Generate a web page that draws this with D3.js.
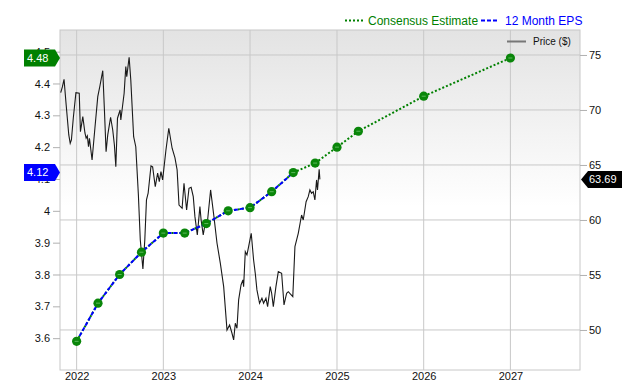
<!DOCTYPE html>
<html>
<head>
<meta charset="utf-8">
<script src="https://cdn.jsdelivr.net/npm/d3@7"></script>
<style>
  body { margin: 0; background: #fff; }
  #svg-container { width: 640px; height: 380px; }
  text { font-family: "Liberation Sans", Arial, sans-serif; }
</style>
</head>
<body>
<div id="svg-container"></div>
<script>
// price ($), weekly-ish closes
var priceDates = ["2021-10-26","2021-11-02","2021-11-09","2021-11-18","2021-11-29","2021-12-05","2021-12-10","2021-12-18","2021-12-29",
  "2022-01-12","2022-01-17","2022-01-27","2022-02-05","2022-02-10","2022-02-15","2022-02-20","2022-02-24","2022-03-07","2022-03-19","2022-03-31",
  "2022-04-09","2022-04-21","2022-04-28","2022-05-05","2022-05-12","2022-05-24","2022-06-02","2022-06-09","2022-06-15","2022-06-22",
  "2022-07-03","2022-07-06","2022-07-20","2022-07-27","2022-07-31","2022-08-10","2022-08-17","2022-08-29","2022-09-07","2022-09-18",
  "2022-09-26","2022-10-07","2022-10-15","2022-10-22","2022-10-29","2022-11-10","2022-11-17","2022-11-22","2022-11-28","2022-12-08",
  "2022-12-15","2022-12-22","2022-12-29","2023-01-12","2023-01-24","2023-02-07","2023-02-19","2023-02-28","2023-03-08","2023-03-21",
  "2023-03-29","2023-04-09","2023-04-19","2023-04-28","2023-05-07","2023-05-14","2023-05-24","2023-06-04","2023-06-09","2023-06-18",
  "2023-06-25","2023-07-05","2023-07-19","2023-08-02","2023-08-15","2023-08-29","2023-09-12","2023-09-26","2023-10-07","2023-10-17",
  "2023-10-24","2023-10-31","2023-11-07","2023-11-14","2023-11-24","2023-12-02","2023-12-05","2023-12-12","2023-12-19","2023-12-26",
  "2024-01-06","2024-01-16","2024-01-23","2024-01-30","2024-02-10","2024-02-20","2024-02-27","2024-03-08","2024-03-15","2024-03-26",
  "2024-04-01","2024-04-08","2024-04-19","2024-04-29","2024-05-13","2024-05-23","2024-06-03","2024-06-10","2024-06-29","2024-07-08",
  "2024-07-22","2024-08-05","2024-08-12","2024-08-24","2024-09-02","2024-09-09","2024-09-16","2024-09-23","2024-09-30","2024-10-07",
  "2024-10-11","2024-10-18","2024-10-21"];
var priceValues = [71.57,72.09,72.79,70.45,67.73,66.97,67.27,69.27,71.57,
  71.52,68.03,69.39,67.91,67.43,67.64,66.66,67.43,65.45,68.36,71.21,
  72.18,73.57,70.00,66.21,67.73,69.34,68.18,66.82,64.85,69.25,
  70.00,69.09,71.52,73.94,73.03,74.79,72.73,67.57,66.66,62.27,
  58.18,55.55,58.18,61.82,62.43,64.91,64.82,64.00,63.03,64.25,
  63.48,64.39,63.64,66.36,68.34,66.52,65.64,64.55,61.36,61.06,
  63.34,60.91,62.88,62.97,62.12,60.30,58.64,61.21,60.00,58.64,
  59.55,59.70,62.73,60.30,57.88,56.06,53.94,50.00,50.45,49.70,
  49.09,50.61,50.15,52.73,54.09,54.55,53.94,57.12,56.82,57.57,
  58.79,56.36,55.15,53.64,52.43,52.88,52.43,52.88,52.12,53.94,
  53.34,52.12,53.94,55.30,55.15,52.27,53.34,53.48,53.03,57.57,
  58.79,60.45,60.00,61.66,62.12,62.73,62.43,62.57,61.82,63.64,
  62.73,64.61,63.69];

// 12 month EPS (actuals) and consensus estimates
var epsDates = ["2022-01-01","2022-04-01","2022-07-01","2022-10-01","2023-01-01","2023-04-01","2023-07-01","2023-10-01","2024-01-01","2024-04-01","2024-07-01"];
var epsValues = [3.59,3.71,3.80,3.87,3.93,3.93,3.96,4.00,4.01,4.06,4.12];
var estDates = ["2024-10-01","2025-01-01","2025-04-01","2026-01-01","2027-01-01"];
var estValues = [4.15,4.20,4.25,4.36,4.48];

var leftTicks = [3.6,3.7,3.8,3.9,4.0,4.1,4.2,4.3,4.4,4.5];
var rightTicks = [50,55,60,65,70,75];
var yearTicks = [2022,2023,2024,2025,2026,2027];

var legendItems = [{ name: "Consensus Estimate", color: "#008000", dash: "2,2" },
                   { name: "12 Month EPS", color: "#0000ff", dash: "4,2" }];

var width = 640, height = 380;
var margin = { top: 30, right: 60, bottom: 10, left: 60 };
var plotW = width - margin.left - margin.right;
var plotH = height - margin.top - margin.bottom;

var parse = d3.timeParse("%Y-%m-%d");

var price = priceDates.map(function(d, i) { return { date: parse(d), value: priceValues[i] }; });
var eps = epsDates.map(function(d, i) { return { date: parse(d), value: epsValues[i] }; });
var est = estDates.map(function(d, i) { return { date: parse(d), value: estValues[i] }; });
var allEps = eps.concat(est);

var svg = d3.select("#svg-container")
            .append("svg")
            .attr("width", width)
            .attr("height", height);

var defs = svg.append("defs");
var grad = defs.append("linearGradient")
               .attr("id", "bg")
               .attr("x1", 0).attr("x2", 0).attr("y1", 0).attr("y2", 1);
grad.append("stop").attr("offset", "0%").attr("stop-color", "#e3e3e3");
grad.append("stop").attr("offset", "52%").attr("stop-color", "#ffffff");
grad.append("stop").attr("offset", "100%").attr("stop-color", "#ffffff");

defs.append("clipPath").attr("id", "plotclip")
    .append("rect").attr("width", plotW).attr("height", plotH);

var g = svg.append("g")
           .attr("transform", "translate(" + margin.left + "," + margin.top + ")");

var scaleX = d3.scaleTime()
               .domain([parse("2021-10-23"), parse("2027-10-21")])
               .range([0, plotW]);

var epsY = d3.scaleLinear()
             .domain([3.5, 4.568])
             .range([plotH, 0]);

var priceY = d3.scaleLinear()
               .domain([46.36, 77.27])
               .range([plotH, 0]);

g.append("rect")
 .attr("width", plotW)
 .attr("height", plotH)
 .attr("fill", "url(#bg)");

// grid
g.append("g")
 .attr("class", "grid")
 .selectAll("line.h")
 .data(rightTicks)
 .enter()
 .append("line")
 .attr("x1", 0).attr("x2", plotW)
 .attr("y1", function(d) { return priceY(d); })
 .attr("y2", function(d) { return priceY(d); })
 .attr("stroke", "#c8c8c8");

g.append("g")
 .selectAll("line")
 .data(yearTicks)
 .enter()
 .append("line")
 .attr("x1", function(d) { return scaleX(new Date(d, 0, 1)); })
 .attr("x2", function(d) { return scaleX(new Date(d, 0, 1)); })
 .attr("y1", 0).attr("y2", plotH)
 .attr("stroke", "#c8c8c8");

g.append("rect")
 .attr("width", plotW)
 .attr("height", plotH)
 .attr("fill", "none")
 .attr("stroke", "#c8c8c8");

// axes
var xAxis = g.append("g")
   .attr("transform", "translate(0," + plotH + ")")
   .call(d3.axisBottom(scaleX)
           .tickValues(yearTicks.map(function(d) { return new Date(d, 0, 1); }))
           .tickSize(0)
           .tickPadding(2)
           .tickFormat(d3.timeFormat("%Y")));

var leftAxis = g.append("g")
   .call(d3.axisLeft(epsY)
           .tickValues(leftTicks)
           .tickSize(7)
           .tickPadding(3)
           .tickFormat(d3.format("~g")));

var rightAxis = g.append("g")
   .attr("transform", "translate(" + plotW + ",0)")
   .call(d3.axisRight(priceY)
           .tickValues(rightTicks)
           .tickSize(7)
           .tickPadding(2));

[xAxis, leftAxis, rightAxis].forEach(function(a) {
  a.select(".domain").remove();
  a.selectAll(".tick line").attr("stroke", "#b0b0b0");
  a.selectAll(".tick text")
   .attr("fill", "#111")
   .style("font-family", "'Liberation Sans', Arial, sans-serif")
   .style("font-size", "11px");
});

// lines
var plot = g.append("g").attr("clip-path", "url(#plotclip)");

var priceLine = d3.line()
                  .x(function(d) { return scaleX(d.date); })
                  .y(function(d) { return priceY(d.value); });

var epsLine = d3.line()
                .x(function(d) { return scaleX(d.date); })
                .y(function(d) { return epsY(d.value); });

plot.append("path")
    .datum(price)
    .attr("fill", "none")
    .attr("stroke", "#1a1a1a")
    .attr("stroke-width", 1.1)
    .attr("d", priceLine);

plot.append("path")
    .datum(allEps)
    .attr("fill", "none")
    .attr("stroke", "#008000")
    .attr("stroke-width", 2)
    .attr("stroke-dasharray", "2,2")
    .attr("d", epsLine);

plot.append("path")
    .datum(eps)
    .attr("fill", "none")
    .attr("stroke", "#0000ff")
    .attr("stroke-width", 2)
    .attr("stroke-dasharray", "4,2")
    .attr("d", epsLine);

var dots = plot.selectAll(".dot")
    .data(allEps)
    .enter()
    .append("g")
    .attr("class", "dot")
    .attr("transform", function(d) { return "translate(" + scaleX(d.date) + "," + epsY(d.value) + ")"; });

dots.append("circle")
    .attr("r", 4.6)
    .attr("fill", "#0a860a");

dots.append("line")
    .attr("x1", -2).attr("x2", 2)
    .attr("stroke", "#5cb85c")
    .attr("stroke-width", 1);

// value flags
function leftFlag(value, color) {
  var y = margin.top + epsY(value);
  var f = svg.append("g");
  f.append("path")
   .attr("d", "M24," + (y - 8.5) + "H55L60," + y + "L55," + (y + 8.5) + "H24Z")
   .attr("fill", color);
  f.append("text")
   .attr("x", 27)
   .attr("y", y)
   .attr("dy", "0.35em")
   .attr("fill", "#fff")
   .style("font-size", "11px")
   .text(d3.format(".2f")(value));
}
leftFlag(estValues[estValues.length - 1], "#008000");
leftFlag(epsValues[epsValues.length - 1], "#0000ff");

var lastPrice = priceValues[priceValues.length - 1];
var py = margin.top + priceY(lastPrice);
var pf = svg.append("g");
pf.append("path")
  .attr("d", "M581," + py + "L588," + (py - 8.5) + "H622V" + (py + 8.5) + "H588Z")
  .attr("fill", "#000");
pf.append("text")
  .attr("x", 589)
  .attr("y", py)
  .attr("dy", "0.35em")
  .attr("fill", "#fff")
  .style("font-size", "11px")
  .text(d3.format(".2f")(lastPrice));

// legend
var legX = [345, 481];
var textX = [368, 505];
legendItems.forEach(function(d, i) {
  svg.append("line")
     .attr("x1", legX[i]).attr("x2", legX[i] + 18)
     .attr("y1", 20.5).attr("y2", 20.5)
     .attr("stroke", d.color)
     .attr("stroke-width", 2)
     .attr("stroke-dasharray", d.dash);
  svg.append("text")
     .attr("x", textX[i])
     .attr("y", 25)
     .attr("fill", d.color)
     .style("font-size", "12px")
     .text(d.name);
});

svg.append("line")
   .attr("x1", 507).attr("x2", 526)
   .attr("y1", 41.5).attr("y2", 41.5)
   .attr("stroke", "#777")
   .attr("stroke-width", 2);
svg.append("text")
   .attr("x", 533)
   .attr("y", 45)
   .attr("fill", "#111")
   .style("font-size", "10px")
   .text("Price ($)");
</script>
</body>
</html>
